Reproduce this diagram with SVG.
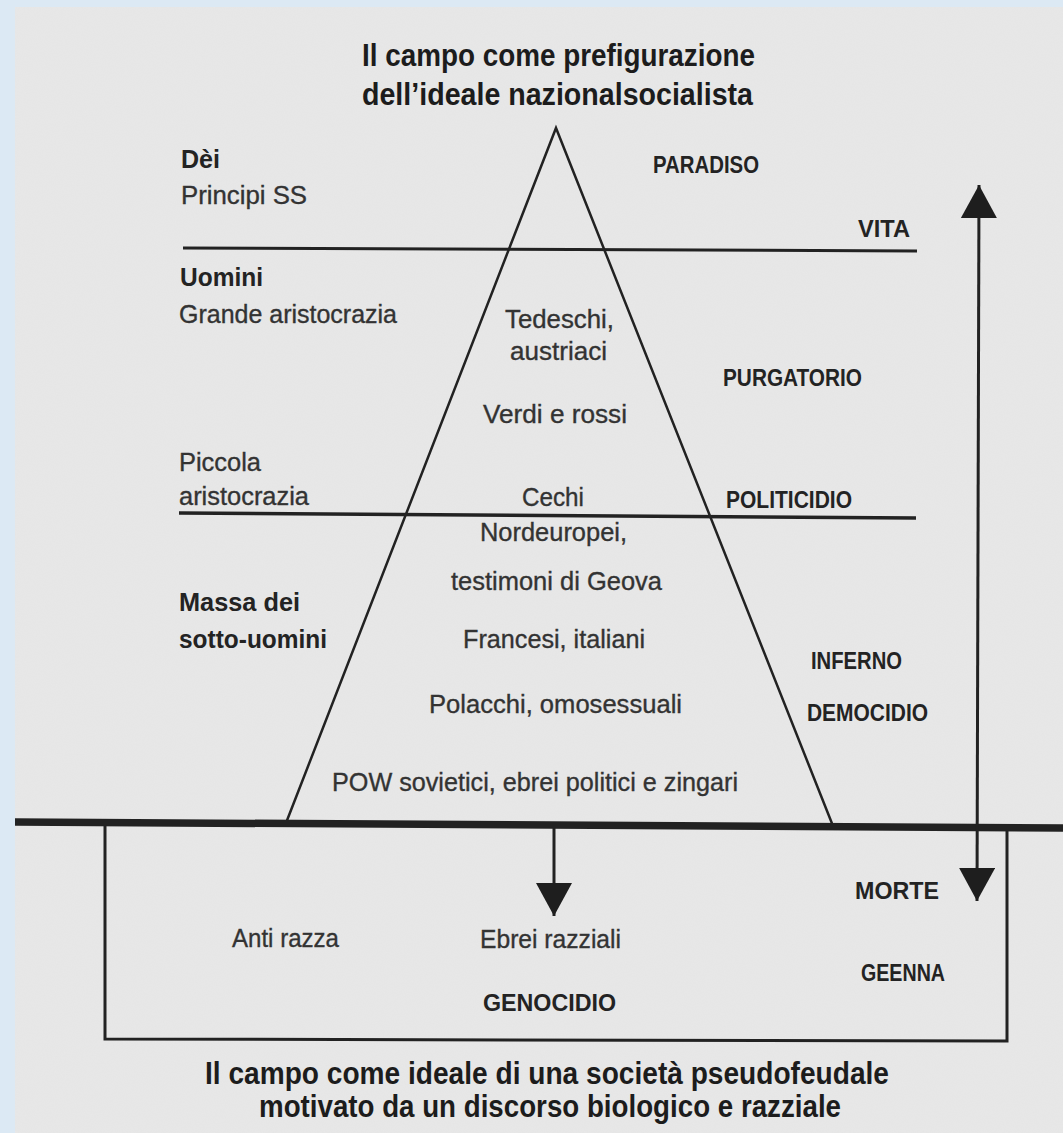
<svg xmlns="http://www.w3.org/2000/svg" width="1063" height="1133" viewBox="0 0 1063 1133">
<defs>
<marker id="ah" viewBox="0 0 33 36" refX="33" refY="18" markerWidth="33" markerHeight="36" markerUnits="userSpaceOnUse" orient="auto-start-reverse">
<path d="M0,0 L33,18 L0,36 z" fill="#1e1e1e"/>
</marker>
<filter id="paper" x="0" y="0" width="100%" height="100%">
<feTurbulence type="fractalNoise" baseFrequency="0.9" numOctaves="2" seed="3" result="n"/>
<feColorMatrix in="n" type="matrix" values="0 0 0 0 0.5  0 0 0 0 0.5  0 0 0 0 0.5  0 0 0 0.08 0"/>
<feComposite in2="SourceGraphic" operator="over"/>
</filter>
</defs>
<style>
text{font-family:"Liberation Sans",Arial,sans-serif;}
.t{font-size:31px;font-weight:bold;fill:#1c1c1c;}
.b{font-size:26px;font-weight:bold;fill:#232323;}
.r{font-size:26px;fill:#333;stroke:#333;stroke-width:0.35px;}
.c{font-size:24px;font-weight:bold;fill:#232323;}
.ln{stroke:#222;fill:none;stroke-linecap:butt;}
</style>
<rect x="0" y="0" width="1063" height="1133" fill="#dce9f4"/>
<rect x="15" y="7" width="1048" height="1126" fill="#e8e8e8" filter="url(#paper)"/>

<g id="title-top">
<text class="t" x="362" y="66" textLength="393" lengthAdjust="spacingAndGlyphs">Il campo come prefigurazione</text>
<text class="t" x="362" y="105" textLength="391" lengthAdjust="spacingAndGlyphs">dell’ideale nazionalsocialista</text>
</g>

<g id="connectors">
<path class="ln" d="M286,823 L556,128 L833,826" stroke-width="2.5"/>
<path class="ln" d="M183,248 L917,251" stroke-width="3"/>
<path class="ln" d="M179,513 L916,518" stroke-width="3.5"/>
<path class="ln" d="M15,822 L1063,828" stroke-width="7.5"/>
<path class="ln" d="M105,822 L105,1039 L1007,1041 L1007,826" stroke-width="3"/>
<path class="ln" d="M554,826 L554,916" stroke-width="3" marker-end="url(#ah)"/>
<path class="ln" d="M977,901 L979,185" stroke-width="3" marker-start="url(#ah)" marker-end="url(#ah)"/>
</g>

<g id="node-dei">
<text class="b" x="181" y="168" textLength="39" lengthAdjust="spacingAndGlyphs">Dèi</text>
<text class="r" x="181" y="204" textLength="126" lengthAdjust="spacingAndGlyphs">Principi SS</text>
</g>
<g id="node-uomini">
<text class="b" x="180" y="286" textLength="83" lengthAdjust="spacingAndGlyphs">Uomini</text>
<text class="r" x="179" y="323" textLength="218" lengthAdjust="spacingAndGlyphs">Grande aristocrazia</text>
</g>
<g id="node-piccola">
<text class="r" x="179" y="471" textLength="82" lengthAdjust="spacingAndGlyphs">Piccola</text>
<text class="r" x="179" y="505" textLength="130" lengthAdjust="spacingAndGlyphs">aristocrazia</text>
</g>
<g id="node-massa">
<text class="b" x="179" y="611" textLength="121" lengthAdjust="spacingAndGlyphs">Massa dei</text>
<text class="b" x="179" y="648" textLength="148" lengthAdjust="spacingAndGlyphs">sotto-uomini</text>
</g>

<g id="node-paradiso"><text class="c" x="653" y="173" textLength="106" lengthAdjust="spacingAndGlyphs">PARADISO</text></g>
<g id="node-vita"><text class="c" x="858" y="237" textLength="52" lengthAdjust="spacingAndGlyphs">VITA</text></g>
<g id="node-purgatorio"><text class="c" x="723" y="386" textLength="139" lengthAdjust="spacingAndGlyphs">PURGATORIO</text></g>
<g id="node-politicidio"><text class="c" x="726" y="508" textLength="126" lengthAdjust="spacingAndGlyphs">POLITICIDIO</text></g>
<g id="node-inferno"><text class="c" x="811" y="669" textLength="91" lengthAdjust="spacingAndGlyphs">INFERNO</text></g>
<g id="node-democidio"><text class="c" x="807" y="721" textLength="121" lengthAdjust="spacingAndGlyphs">DEMOCIDIO</text></g>
<g id="node-morte"><text class="c" x="855" y="899" textLength="84" lengthAdjust="spacingAndGlyphs">MORTE</text></g>
<g id="node-geenna"><text class="c" x="861" y="981" textLength="84" lengthAdjust="spacingAndGlyphs">GEENNA</text></g>
<g id="node-genocidio"><text class="c" x="483" y="1011" textLength="133" lengthAdjust="spacingAndGlyphs">GENOCIDIO</text></g>

<g id="node-tedeschi">
<text class="r" x="505" y="328" textLength="109" lengthAdjust="spacingAndGlyphs">Tedeschi,</text>
<text class="r" x="510" y="360" textLength="97" lengthAdjust="spacingAndGlyphs">austriaci</text>
</g>
<g id="node-verdi"><text class="r" x="483" y="423" textLength="144" lengthAdjust="spacingAndGlyphs">Verdi e rossi</text></g>
<g id="node-cechi"><text class="r" x="522" y="506" textLength="62" lengthAdjust="spacingAndGlyphs">Cechi</text></g>
<g id="node-nordeuropei">
<text class="r" x="480" y="541" textLength="147" lengthAdjust="spacingAndGlyphs">Nordeuropei,</text>
<text class="r" x="451" y="590" textLength="211" lengthAdjust="spacingAndGlyphs">testimoni di Geova</text>
</g>
<g id="node-francesi"><text class="r" x="463" y="648" textLength="182" lengthAdjust="spacingAndGlyphs">Francesi, italiani</text></g>
<g id="node-polacchi"><text class="r" x="429" y="713" textLength="253" lengthAdjust="spacingAndGlyphs">Polacchi, omosessuali</text></g>
<g id="node-pow"><text class="r" x="332" y="791" textLength="406" lengthAdjust="spacingAndGlyphs">POW sovietici, ebrei politici e zingari</text></g>
<g id="node-antirazza"><text class="r" x="232" y="947" textLength="107" lengthAdjust="spacingAndGlyphs">Anti razza</text></g>
<g id="node-ebrei"><text class="r" x="480" y="948" textLength="141" lengthAdjust="spacingAndGlyphs">Ebrei razziali</text></g>

<g id="title-bottom">
<text class="t" x="205" y="1084" textLength="684" lengthAdjust="spacingAndGlyphs">Il campo come ideale di una società pseudofeudale</text>
<text class="t" x="259" y="1117" textLength="582" lengthAdjust="spacingAndGlyphs">motivato da un discorso biologico e razziale</text>
</g>
</svg>
